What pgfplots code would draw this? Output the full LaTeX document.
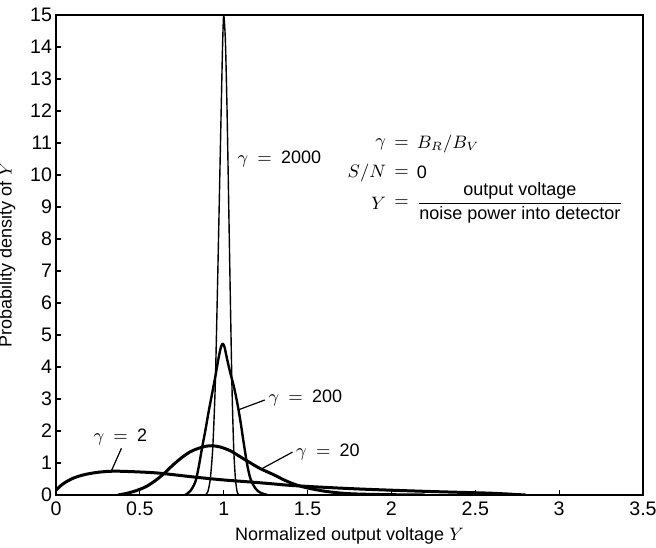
\documentclass[border=0pt]{standalone}
\usepackage{amsmath}
\usepackage{fontspec}
\setmainfont{Liberation Sans}
\usepackage{pgfplots}
\pgfplotsset{compat=1.18}
\newcommand{\glab}[1]{$\gamma\mkern9mu{=}\mkern9mu$#1}
\begin{document}
\begin{tikzpicture}[font=\fontsize{9}{11}\selectfont]
\begin{axis}[
  scale only axis, width=293.5pt, height=240pt,
  xmin=0, xmax=3.5, ymin=0, ymax=15,
  xtick={0,0.5,1,1.5,2,2.5,3,3.5},
  ytick={0,1,2,3,4,5,6,7,8,9,10,11,12,13,14,15},
  tick align=inside, tick pos=left,
  major tick length=2.5pt,
  axis line style={line width=0.9pt},
  every tick/.style={line width=0.6pt, black},
  /pgf/number format/assume math mode=true,
  tick label style={font=\fontsize{9.8}{11}\selectfont},
  yticklabel style={xshift=1.5pt},
  xlabel={Normalized output voltage $Y$},
  ylabel={Probability density of $Y$},
  xlabel style={at={(axis description cs:0.5,-0.094)}, anchor=base},
  ylabel style={at={(axis description cs:-0.057,0.5)}, anchor=south},
]
% gamma = 2
\addplot[line width=1.5pt, smooth] coordinates {
(0,0.15) (0.03,0.30) (0.06,0.41) (0.1,0.52) (0.15,0.61) (0.2,0.67) (0.25,0.71)
(0.3,0.735) (0.35,0.745) (0.4,0.74) (0.5,0.72) (0.6,0.69) (0.7,0.635) (0.8,0.575)
(0.9,0.52) (1.0,0.47) (1.1,0.43) (1.2,0.39) (1.3,0.345) (1.4,0.30) (1.6,0.24)
(1.8,0.19) (2.0,0.15) (2.2,0.115) (2.4,0.085) (2.6,0.055) (2.8,0.0)};
% gamma = 20
\addplot[line width=1.5pt, smooth] coordinates {
(0.37,0) (0.42,0.05) (0.48,0.14) (0.54,0.27) (0.6,0.48) (0.65,0.7) (0.7,0.95)
(0.75,1.17) (0.8,1.35) (0.85,1.46) (0.9,1.53) (0.93,1.54) (0.98,1.5) (1.04,1.38)
(1.1,1.19) (1.16,1.0) (1.22,0.82) (1.3,0.63) (1.36,0.47) (1.43,0.32) (1.5,0.22)
(1.6,0.12) (1.7,0.06) (1.8,0.03) (2.0,0.01) (2.2,0)};
% gamma = 200
\addplot[line width=1.2pt, smooth, tension=0.5] coordinates {
(0.77,0) (0.80,0.12) (0.83,0.4) (0.85,0.85) (0.87,1.45) (0.89,2.0) (0.91,2.6)
(0.93,3.15) (0.95,3.7) (0.97,4.3) (0.985,4.65) (0.995,4.72) (1.005,4.62)
(1.02,4.25) (1.04,3.8) (1.06,3.4) (1.08,2.9) (1.10,2.3) (1.12,1.6) (1.14,0.95)
(1.16,0.5) (1.19,0.2) (1.22,0.07) (1.26,0)};
% gamma = 2000
\addplot[line width=0.7pt, smooth, tension=0.4] coordinates {
(0.89,0) (0.905,0.1) (0.92,0.5) (0.935,1.5) (0.95,3.5) (0.965,7.0) (0.98,10.8)
(0.993,14.0) (1.0,15.0) (1.01,14.2) (1.02,12.0) (1.03,9.0) (1.04,6.0) (1.05,3.2)
(1.06,1.4) (1.07,0.5) (1.08,0.1) (1.09,0)};
% curve labels
\draw[line width=0.6pt] (axis cs:0.33,0.75) -- (axis cs:0.39,1.46);
\node[anchor=west, inner sep=0pt] at (axis cs:0.222,1.82) {\glab{2}};
\draw[line width=0.6pt] (axis cs:1.23,0.83) -- (axis cs:1.41,1.34);
\node[anchor=west, inner sep=0pt] at (axis cs:1.43,1.36) {\glab{20}};
\draw[line width=0.6pt] (axis cs:1.087,2.66) -- (axis cs:1.245,2.97);
\node[anchor=west, inner sep=0pt] at (axis cs:1.265,3.02) {\glab{200}};
\node[anchor=west, inner sep=0pt] at (axis cs:1.08,10.5) {\glab{2000}};
% definitions block
\node[anchor=east, inner sep=0pt] at (axis cs:1.97,10.97) {$\gamma$};
\node[inner sep=0pt] at (axis cs:2.06,10.97) {$=$};
\node[anchor=west, inner sep=0pt] at (axis cs:2.15,10.97) {$B_R/B_V$};
\node[anchor=east, inner sep=0pt] at (axis cs:1.97,10.07) {$S/N$};
\node[inner sep=0pt] at (axis cs:2.06,10.07) {$=$};
\node[anchor=west, inner sep=0pt] at (axis cs:2.15,10.07) {0};
\node[anchor=east, inner sep=0pt] at (axis cs:1.97,9.12) {$Y$};
\node[inner sep=0pt] at (axis cs:2.06,9.12) {$=$};
\node[anchor=west, inner sep=0pt] at (axis cs:2.15,9.12)
  {$\dfrac{\text{output voltage}}{\text{noise power into detector}}$};
\end{axis}
\pgfresetboundingbox
\path[use as bounding box] ([xshift=-28pt,yshift=-26pt]current axis.south west)
  rectangle ([xshift=6.5pt,yshift=7.5pt]current axis.north east);
\end{tikzpicture}
\end{document}
